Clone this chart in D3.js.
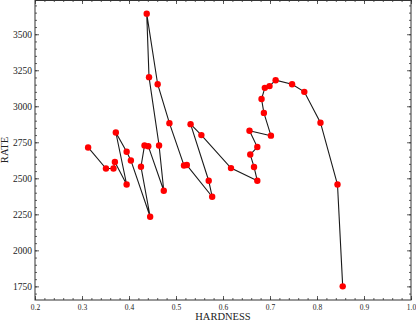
<!DOCTYPE html>
<html lang="en">
<head>
  <meta charset="UTF-8">
  <title>Rate vs Hardness</title>
  <style>
    body { margin: 0; background: #fff; }
    svg { display: block; }
    .label { font-family: "Liberation Serif", serif; fill: #222; }
  </style>
</head>
<body>
  <div id="svg"></div>
  <script src="https://d3js.org/d3.v7.min.js"></script>
  <script>
// values, in path order
const hardness = [0.313, 0.351, 0.367, 0.370, 0.395, 0.372, 0.395, 0.404, 0.445, 0.4255,
  0.433, 0.441, 0.474, 0.464, 0.4426, 0.4377, 0.461, 0.486, 0.517, 0.523,
  0.577, 0.5696, 0.531, 0.554, 0.617, 0.673, 0.666, 0.658, 0.673, 0.6564,
  0.702, 0.687, 0.682, 0.689, 0.699, 0.712, 0.747, 0.773, 0.8074, 0.8436, 0.8547]
const rate = [2714, 2568, 2568, 2613, 2457, 2818, 2684, 2624, 2233, 2580,
  2728, 2723, 2414, 2728, 3202, 3643, 3153, 2883, 2589, 2592,
  2372, 2483, 2876, 2800, 2571, 2483, 2579, 2665, 2717, 2830,
  2796, 2954, 3050, 3128, 3140, 3181, 3153, 3100, 2886, 2457, 1750]

const xTicks = [0.2, 0.3, 0.4, 0.5, 0.6, 0.7, 0.8, 0.9, 1.0]
const yTicks = [1750, 2000, 2250, 2500, 2750, 3000, 3250, 3500]

const data = hardness.map((h, i) => ({x: h, y: rate[i]}))

const width = 416, height = 322
const margin = {top: 0, right: 5, bottom: 22, left: 35}
const w = width - margin.left - margin.right
const h = height - margin.top - margin.bottom

// y range padded by 5% like matplotlib autoscale
const yExt = d3.extent(rate)
const pad = (yExt[1] - yExt[0]) * 0.05

const x = d3.scaleLinear().domain([0.2, 1.0]).range([0, w])
const y = d3.scaleLinear().domain([yExt[0] - pad, yExt[1] + pad]).range([h, 0])

const xMinor = d3.range(0.2, 1.0001, 0.02).map(v => +v.toFixed(2))
const yMinor = d3.range(1700, 3738, 50).filter(v => v > y.domain()[0])

const svg = d3.select('#svg')
  .append('svg')
    .attr('width', width)
    .attr('height', height)
  .append('g')
    .attr('transform', `translate(${margin.left},${margin.top})`)

// line + markers
const line = d3.line().x(d => x(d.x)).y(d => y(d.y))
svg.append('path')
  .datum(data)
  .attr('d', line)
  .attr('fill', 'none')
  .attr('stroke', '#1a1a1a')
  .attr('stroke-width', 1.1)

svg.append('g')
  .selectAll('circle')
  .data(data)
  .enter()
  .append('circle')
    .attr('cx', d => x(d.x))
    .attr('cy', d => y(d.y))
    .attr('r', 3.2)
    .style('fill', '#ff0000')

// axes, ticks pointing inward on all four sides
function styleAxis(g) {
  g.select('.domain').remove()
  g.attr('font-family', '"Liberation Serif", serif')
  g.selectAll('.tick line').attr('stroke', '#333').attr('stroke-width', 0.8)
  g.selectAll('.tick text').attr('fill', '#222')
}

svg.append('g')
  .attr('transform', `translate(0,${h})`)
  .call(d3.axisBottom(x).tickValues(xTicks).tickSize(-4).tickPadding(5).tickFormat(d3.format('.1f')))
  .call(styleAxis)
  .call(g => g.selectAll('text').style('font-size', '7.5px'))
svg.append('g')
  .attr('transform', `translate(0,${h})`)
  .call(d3.axisBottom(x).tickValues(xMinor).tickSize(-2).tickFormat(''))
  .call(styleAxis)
svg.append('g')
  .call(d3.axisTop(x).tickValues(xTicks).tickSize(-4).tickFormat(''))
  .call(styleAxis)
svg.append('g')
  .call(d3.axisTop(x).tickValues(xMinor).tickSize(-2).tickFormat(''))
  .call(styleAxis)

svg.append('g')
  .call(d3.axisLeft(y).tickValues(yTicks).tickSize(-4).tickPadding(3).tickFormat(d3.format('d')))
  .call(styleAxis)
  .call(g => g.selectAll('text').style('font-size', '9.5px'))
svg.append('g')
  .call(d3.axisLeft(y).tickValues(yMinor).tickSize(-2).tickFormat(''))
  .call(styleAxis)
svg.append('g')
  .attr('transform', `translate(${w},0)`)
  .call(d3.axisRight(y).tickValues(yTicks).tickSize(-4).tickFormat(''))
  .call(styleAxis)
svg.append('g')
  .attr('transform', `translate(${w},0)`)
  .call(d3.axisRight(y).tickValues(yMinor).tickSize(-2).tickFormat(''))
  .call(styleAxis)

// frame
svg.append('rect')
  .attr('x', 0)
  .attr('y', 0.5)
  .attr('width', w)
  .attr('height', h - 0.5)
  .attr('fill', 'none')
  .attr('stroke', '#333')
  .attr('stroke-width', 1)

svg.append('text')
  .attr('class', 'label')
  .attr('x', w / 2)
  .attr('y', h + 20)
  .attr('text-anchor', 'middle')
  .style('font-size', '10.5px')
  .text('HARDNESS')

svg.append('text')
  .attr('class', 'label')
  .attr('transform', `translate(${-27},${h / 2}) rotate(-90)`)
  .attr('text-anchor', 'middle')
  .style('font-size', '10.5px')
  .text('RATE')
  </script>
</body>
</html>
